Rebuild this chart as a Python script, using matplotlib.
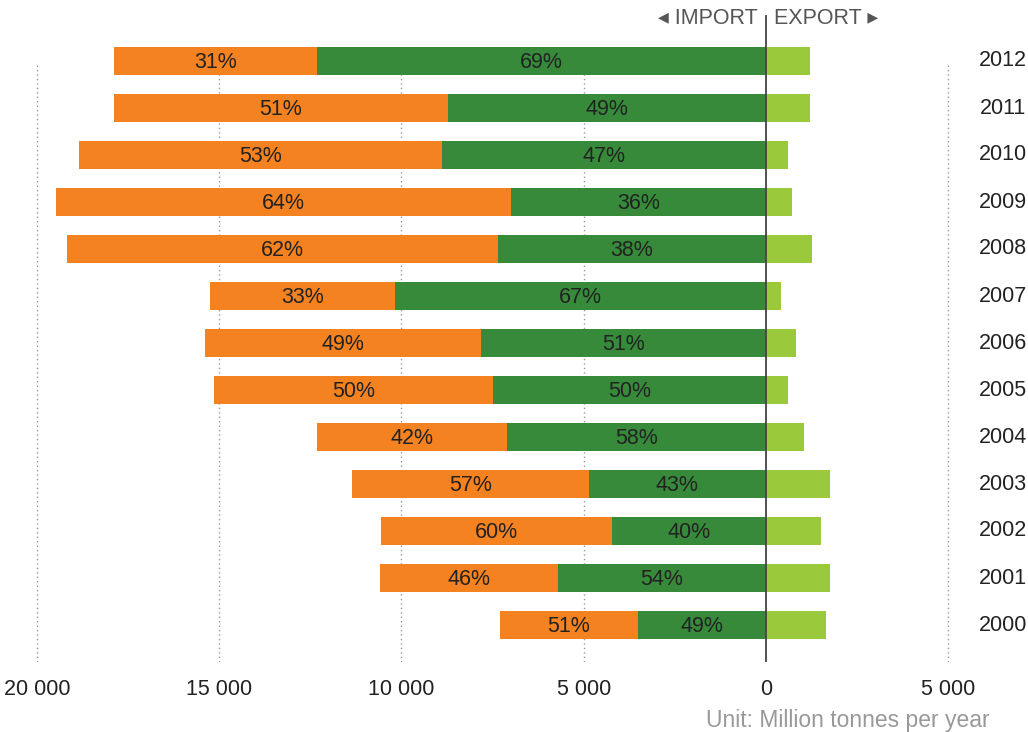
import matplotlib
matplotlib.use("Agg")
import matplotlib.pyplot as plt

plt.rcParams['font.family'] = ['Liberation Sans', 'DejaVu Sans']

years = ['2012', '2011', '2010', '2009', '2008', '2007', '2006', '2005',
         '2004', '2003', '2002', '2001', '2000']
# import split (million tonnes): orange segment (left part) and green segment (next to zero)
import_orange = [5580, 9180, 9960, 12480, 11830, 5070, 7570, 7650, 5220, 6500, 6340, 4880, 3790]
import_green = [12320, 8720, 8890, 7000, 7350, 10180, 7820, 7490, 7100, 4860, 4220, 5710, 3510]
pct_orange = ['31%', '51%', '53%', '64%', '62%', '33%', '49%', '50%', '42%', '57%', '60%', '46%', '51%']
pct_green = ['69%', '49%', '47%', '36%', '38%', '67%', '51%', '50%', '58%', '43%', '40%', '54%', '49%']
export_vals = [1210, 1210, 600, 710, 1260, 410, 820, 600, 1040, 1760, 1510, 1760, 1650]

xticks = [-20000, -15000, -10000, -5000, 0, 5000]
xtick_labels = ['20 000', '15 000', '10 000', '5 000', '0', '5 000']

ORANGE = '#F58220'
DGREEN = '#368A3A'
LGREEN = '#9ACA3C'

W, H = 1028, 732
fig = plt.figure(figsize=(W / 100, H / 100), dpi=100)
ax_bottom_px = 662
ax = fig.add_axes([0, (H - ax_bottom_px) / H, 1, ax_bottom_px / H])

px_per_unit = 36.45 / 1000
x0_px = 766
ax.set_xlim(-x0_px / px_per_unit, (W - x0_px) / px_per_unit)
row_px = 47
first_px = 61
ax.set_ylim((ax_bottom_px - first_px) / row_px, -first_px / row_px)

ypos = list(range(len(years)))
bh = 0.58
FS = 15.5

# gridlines
for xv in [-20000, -15000, -10000, -5000, 5000]:
    ax.vlines(xv, (65 - first_px) / row_px, (ax_bottom_px - first_px) / row_px,
              colors='#9a9a9a', linestyles=(0, (1, 2.2)), linewidth=1.0, zorder=0)

for y, o, g, po, pg, e in zip(ypos, import_orange, import_green, pct_orange, pct_green, export_vals):
    ax.barh(y, -g, height=bh, color=DGREEN, zorder=2, linewidth=0)
    ax.barh(y, -o, left=-g, height=bh, color=ORANGE, zorder=2, linewidth=0)
    ax.barh(y, e, height=bh, color=LGREEN, zorder=2, linewidth=0)
    ax.text(-g - o / 2, y + 0.04, po, ha='center', va='center', fontsize=FS, color='#222222', zorder=3)
    ax.text(-g / 2, y + 0.04, pg, ha='center', va='center', fontsize=FS, color='#222222', zorder=3)
    ax.text((1003 - x0_px) / px_per_unit, y, years[y], ha='center', va='center',
            fontsize=FS, color='#222222')

# zero line
ax.vlines(0, (15 - first_px) / row_px, (ax_bottom_px - first_px) / row_px,
          colors='#444444', linewidth=1.3, zorder=4)

ax.set_xticks(xticks)
ax.set_xticklabels(xtick_labels, fontsize=FS, color='#222222')
ax.tick_params(axis='x', length=0, pad=12)
ax.set_yticks([])
for s in ax.spines.values():
    s.set_visible(False)

ax.text(-8 / px_per_unit, (18 - first_px) / row_px, '◂ IMPORT', ha='right', va='center',
        fontsize=FS, color='#555555')
ax.text(8 / px_per_unit, (18 - first_px) / row_px, 'EXPORT ▸', ha='left', va='center',
        fontsize=FS, color='#555555')

fig.text(990 / W, 1 - 720 / H, 'Unit: Million tonnes per year', ha='right', va='center',
         fontsize=16.5, color='#999999')

fig.savefig('out.png', dpi=100)
